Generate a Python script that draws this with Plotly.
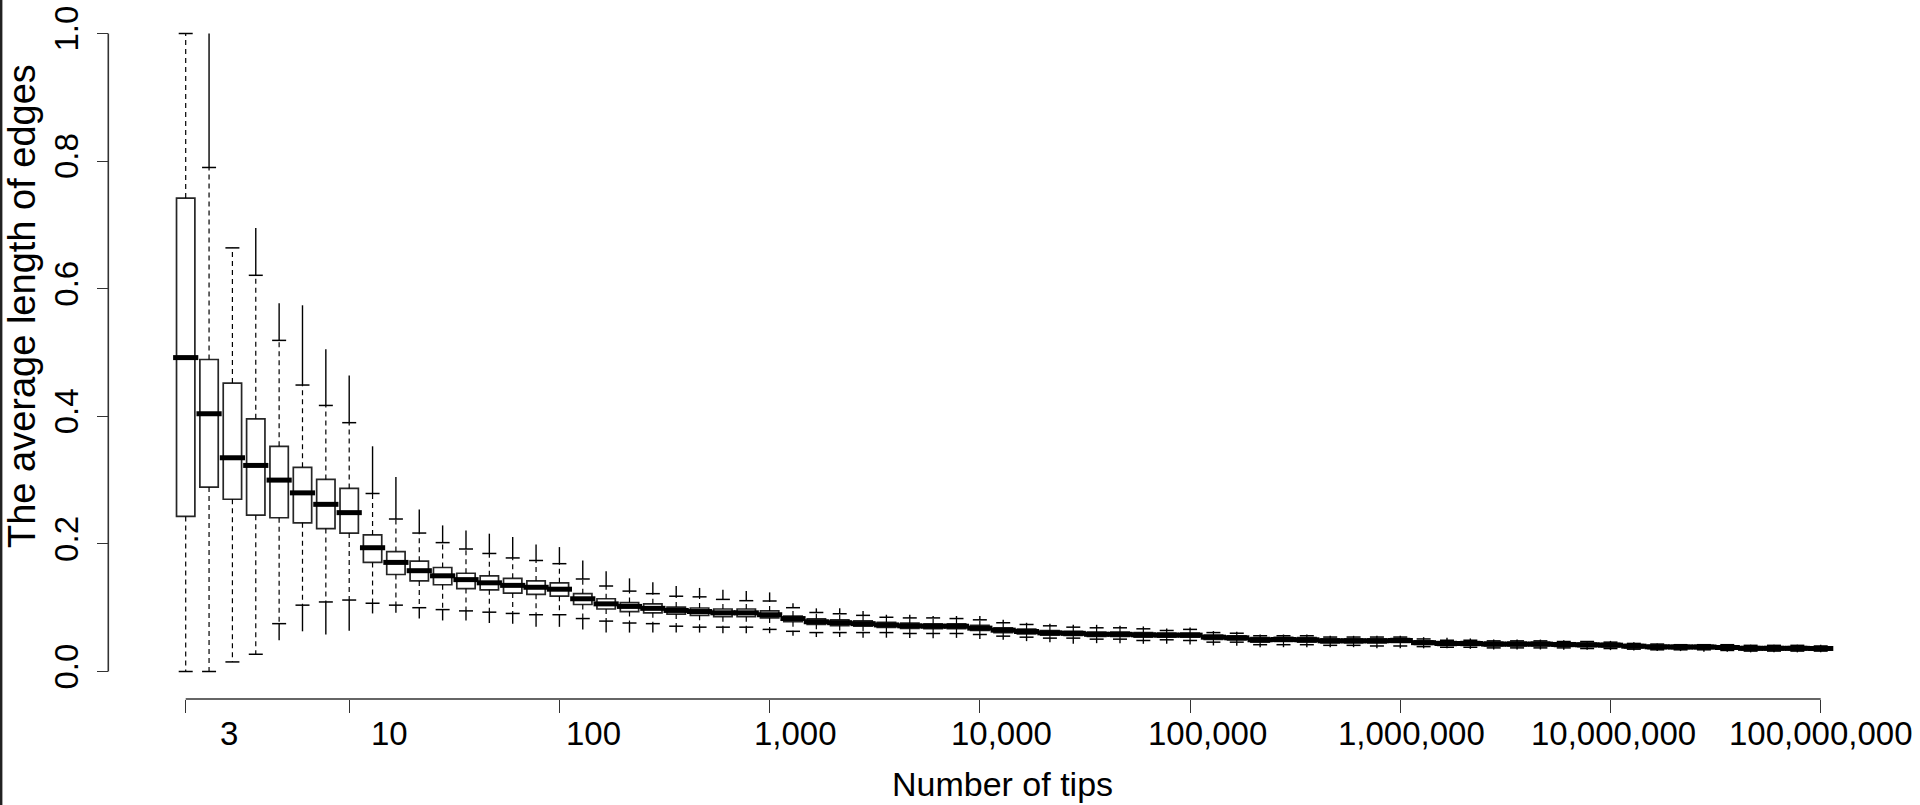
import plotly.graph_objects as go

# ---- data ----
tips = [3, 4, 5, 6, 7, 8, 9, 10,
        20, 30, 40, 50, 60, 70, 80, 90, 100,
        200, 300, 400, 500, 600, 700, 800, 900, 1000,
        2000, 3000, 4000, 5000, 6000, 7000, 8000, 9000, 10000,
        20000, 30000, 40000, 50000, 60000, 70000, 80000, 90000, 100000,
        200000, 300000, 400000, 500000, 600000, 700000, 800000, 900000, 1000000,
        2000000, 3000000, 4000000, 5000000, 6000000, 7000000, 8000000, 9000000, 10000000,
        20000000, 30000000, 40000000, 50000000, 60000000, 70000000, 80000000, 90000000, 100000000]

q1 = [0.243, 0.289, 0.270, 0.245, 0.241, 0.233, 0.224, 0.217,
      0.171, 0.152, 0.142, 0.136, 0.130, 0.128, 0.123, 0.121, 0.118,
      0.105, 0.098, 0.094, 0.092, 0.090, 0.088, 0.086, 0.086, 0.084,
      0.078, 0.074, 0.072, 0.071, 0.069, 0.0675, 0.067, 0.067, 0.0643,
      0.061, 0.059, 0.057, 0.0565, 0.055, 0.055, 0.054, 0.054, 0.054,
      0.0505, 0.0495, 0.046, 0.047, 0.046, 0.045, 0.045, 0.045, 0.0455,
      0.0425, 0.041, 0.041, 0.040, 0.040, 0.040, 0.0395, 0.039, 0.0385,
      0.037, 0.036, 0.036, 0.036, 0.035, 0.034, 0.034, 0.034, 0.0335]

med = [0.492, 0.404, 0.335, 0.323, 0.300, 0.280, 0.262, 0.249,
       0.194, 0.171, 0.158, 0.150, 0.144, 0.139, 0.135, 0.132, 0.129,
       0.114, 0.106, 0.102, 0.099, 0.0957, 0.094, 0.092, 0.092, 0.089,
       0.083, 0.078, 0.0765, 0.075, 0.073, 0.0716, 0.071, 0.071, 0.068,
       0.0648, 0.0627, 0.0606, 0.0598, 0.0583, 0.0583, 0.0575, 0.057, 0.057,
       0.0538, 0.0528, 0.0497, 0.0502, 0.0497, 0.0481, 0.0481, 0.0481, 0.0486,
       0.0452, 0.0439, 0.0439, 0.0429, 0.0429, 0.0429, 0.0424, 0.0418, 0.0413,
       0.0397, 0.0387, 0.0384, 0.0384, 0.0376, 0.0363, 0.0363, 0.0363, 0.0361]

q3 = [0.742, 0.489, 0.452, 0.396, 0.353, 0.320, 0.301, 0.287,
      0.214, 0.188, 0.173, 0.163, 0.154, 0.150, 0.146, 0.142, 0.139,
      0.122, 0.114, 0.108, 0.106, 0.101, 0.0995, 0.098, 0.098, 0.095,
      0.087, 0.0825, 0.081, 0.0795, 0.077, 0.0758, 0.0748, 0.0748, 0.0722,
      0.0685, 0.0665, 0.064, 0.063, 0.0617, 0.0617, 0.061, 0.060, 0.060,
      0.057, 0.056, 0.053, 0.0535, 0.053, 0.051, 0.051, 0.051, 0.0515,
      0.048, 0.047, 0.047, 0.046, 0.046, 0.046, 0.045, 0.0445, 0.044,
      0.042, 0.041, 0.041, 0.041, 0.040, 0.039, 0.039, 0.039, 0.0385]

whisker_lo = [0.000, 0.000, 0.015, 0.027, 0.075, 0.104, 0.109, 0.112,
              0.107, 0.104, 0.100, 0.097, 0.095, 0.093, 0.091, 0.089, 0.089,
              0.083, 0.079, 0.076, 0.075, 0.071, 0.0695, 0.0695, 0.0695, 0.066,
              0.063, 0.061, 0.061, 0.061, 0.061, 0.0596, 0.0596, 0.0596, 0.058,
              0.0554, 0.0538, 0.0523, 0.0523, 0.0507, 0.0507, 0.0486, 0.0497, 0.0486,
              0.046, 0.046, 0.042, 0.042, 0.042, 0.041, 0.041, 0.040, 0.040,
              0.039, 0.038, 0.038, 0.037, 0.037, 0.037, 0.037, 0.036, 0.036,
              0.035, 0.034, 0.034, 0.034, 0.033, 0.032, 0.032, 0.032, 0.032]

whisker_hi = [1.000, 0.790, 0.664, 0.621, 0.519, 0.449, 0.417, 0.390,
              0.279, 0.239, 0.217, 0.202, 0.192, 0.185, 0.178, 0.174, 0.169,
              0.145, 0.134, 0.126, 0.122, 0.118, 0.117, 0.113, 0.111, 0.1105,
              0.100, 0.0925, 0.0905, 0.088, 0.085, 0.084, 0.084, 0.083, 0.081,
              0.0764, 0.0737, 0.0716, 0.0695, 0.0685, 0.0685, 0.0669, 0.0643, 0.066,
              0.061, 0.060, 0.056, 0.056, 0.056, 0.054, 0.054, 0.054, 0.054,
              0.051, 0.049, 0.049, 0.048, 0.048, 0.048, 0.047, 0.047, 0.046,
              0.044, 0.043, 0.042, 0.042, 0.042, 0.041, 0.041, 0.041, 0.040]

outlier_lo = [None, None, None, None, 0.049, 0.063, 0.058, 0.064,
              0.091, 0.092, 0.083, 0.080, 0.080, 0.076, 0.075, 0.070, 0.070,
              0.066, 0.061, 0.061, 0.061, 0.061, 0.061, 0.060, 0.060, 0.060,
              0.056, 0.054, 0.054, 0.053, 0.053, 0.0527, 0.052, 0.0527, 0.051,
              0.0497, 0.0476, 0.046, 0.0434, 0.0444, 0.0444, 0.0434, 0.0434, 0.0423,
              0.0408, 0.0402, 0.0381, 0.0381, 0.0381, 0.0381, 0.0381, 0.0365, 0.0365,
              0.0363, 0.0363, 0.0355, 0.0345, 0.0345, 0.0345, 0.034, 0.034, 0.0335,
              0.033, 0.032, 0.032, 0.031, 0.031, 0.030, 0.030, 0.030, 0.030]

outlier_hi = [None, 1.000, None, 0.695, 0.577, 0.574, 0.505, 0.464,
              0.353, 0.305, 0.254, 0.229, 0.221, 0.216, 0.211, 0.199, 0.195,
              0.174, 0.157, 0.146, 0.140, 0.134, 0.131, 0.128, 0.126, 0.124,
              0.107, 0.099, 0.099, 0.095, 0.089, 0.089, 0.087, 0.087, 0.087,
              0.081, 0.0764, 0.0748, 0.0732, 0.0732, 0.0716, 0.0706, 0.0675, 0.069,
              0.0633, 0.0622, 0.058, 0.058, 0.058, 0.0559, 0.0559, 0.0559, 0.0559,
              0.0538, 0.0528, 0.0518, 0.050, 0.050, 0.050, 0.049, 0.048, 0.048,
              0.046, 0.044, 0.043, 0.043, 0.043, 0.042, 0.042, 0.042, 0.042]

tick_tips = [3, 10, 100, 1000, 10000, 100000, 1000000, 10000000, 100000000]
tick_labels = ["3", "10", "100", "1,000", "10,000", "100,000",
               "1,000,000", "10,000,000", "100,000,000"]
y_ticks = [0.0, 0.2, 0.4, 0.6, 0.8, 1.0]
y_tick_labels = ["0.0", "0.2", "0.4", "0.6", "0.8", "1.0"]

# horizontal nudge (px) of each x tick label relative to its tick, as in the reference
tick_label_shift = [43, 40, 34, 26, 22, 17, 11, 3, 0]

# ---- figure ----
W, H = 1920, 805
cats = [str(t) for t in tips]
FONT = "Liberation Sans, Arial, sans-serif"

fig = go.Figure()

# boxes (white, outlined)
fig.add_trace(go.Box(
    x=cats, q1=q1, median=med, q3=q3, lowerfence=q1, upperfence=q3,
    width=0.786, whiskerwidth=0, fillcolor="white",
    line=dict(color="#262626", width=1.7), boxpoints=False,
    hoverinfo="skip", showlegend=False))

# dashed whiskers
wx, wy = [], []
for c, a, b, lo, hi in zip(cats, q1, q3, whisker_lo, whisker_hi):
    wx += [c, c, None, c, c, None]
    wy += [b, hi, None, a, lo, None]
fig.add_trace(go.Scatter(x=wx, y=wy, mode="lines",
                         line=dict(color="black", width=1.2, dash="5px,4px"),
                         connectgaps=False, hoverinfo="skip", showlegend=False))

# outliers (dense, drawn as solid runs)
ox, oy = [], []
for c, lo, hi, olo, ohi in zip(cats, whisker_lo, whisker_hi, outlier_lo, outlier_hi):
    if ohi is not None:
        ox += [c, c, None]
        oy += [hi, ohi, None]
    if olo is not None:
        ox += [c, c, None]
        oy += [lo, olo, None]
fig.add_trace(go.Scatter(x=ox, y=oy, mode="lines",
                         line=dict(color="black", width=1.4),
                         connectgaps=False, hoverinfo="skip", showlegend=False))

# staples
fig.add_trace(go.Scatter(x=cats + cats, y=whisker_hi + whisker_lo, mode="markers",
                         marker=dict(symbol="line-ew", size=10, color="black",
                                     line=dict(color="black", width=1.5)),
                         hoverinfo="skip", showlegend=False))

# thick medians
fig.add_trace(go.Scatter(x=cats, y=med, mode="markers",
                         marker=dict(symbol="line-ew", size=18, color="black",
                                     line=dict(color="black", width=5)),
                         hoverinfo="skip", showlegend=False))

# pixel geometry
x_first_px, x_last_px = 185.7, 1820.7
step = (x_last_px - x_first_px) / (len(cats) - 1)
x_range = [-x_first_px / step, (len(cats) - 1) + (W - x_last_px) / step]
y0_px, y1_px = 671.5, 33.5
ppu = y0_px - y1_px
y_range = [-(H - y0_px) / ppu, 1 + y1_px / ppu]
x_axis_y = 1 - 699 / H
y_axis_x = 108.3 / W
first_tick_idx = cats.index(str(tick_tips[0]))
last_tick_idx = cats.index(str(tick_tips[-1]))

annotations = [
    dict(text="Number of tips", xref="paper", yref="paper",
         x=1003 / W, y=0.0, xanchor="center", yanchor="bottom",
         showarrow=False, font=dict(size=34, family=FONT, color="black")),
    dict(text="The average length of edges", xref="paper", yref="paper",
         x=22 / W, y=1 - 306 / H, xanchor="center", yanchor="middle",
         textangle=-90, showarrow=False, borderpad=0,
         font=dict(size=38, family=FONT, color="black")),
]
for t, lab, sh in zip(tick_tips, tick_labels, tick_label_shift):
    annotations.append(dict(
        text=lab, xref="x", yref="paper", x=cats.index(str(t)), y=1 - 733.5 / H,
        xanchor="center", yanchor="middle", xshift=sh, showarrow=False,
        borderpad=0, font=dict(size=33, family=FONT, color="black")))

fig.update_layout(
    width=W, height=H,
    margin=dict(l=0, r=0, t=0, b=0, pad=0),
    paper_bgcolor="white", plot_bgcolor="white",
    font=dict(family=FONT, color="black"),
    xaxis=dict(type="category", categoryorder="array", categoryarray=cats,
               range=x_range, domain=[0, 1], anchor="free", position=x_axis_y,
               showline=False, showgrid=False, zeroline=False,
               ticks="outside", ticklen=13, tickwidth=1.4, tickcolor="#333333",
               tickmode="array", tickvals=[str(t) for t in tick_tips], ticktext=tick_labels,
               showticklabels=False, automargin=False, fixedrange=True),
    yaxis=dict(range=y_range, domain=[0, 1], anchor="free", position=y_axis_x,
               showline=False, showgrid=False, zeroline=False,
               ticks="outside", ticklen=11, tickwidth=1.4, tickcolor="#333333",
               tickmode="array", tickvals=y_ticks, ticktext=y_tick_labels,
               tickangle=-90, tickfont=dict(size=33, family=FONT, color="black"),
               ticklabelstandoff=6, automargin=False, fixedrange=True),
    shapes=[
        dict(type="line", xref="x", yref="paper", x0=first_tick_idx, x1=last_tick_idx,
             y0=x_axis_y, y1=x_axis_y, line=dict(color="#333333", width=1.6)),
        dict(type="line", xref="paper", yref="y", x0=y_axis_x, x1=y_axis_x,
             y0=y_ticks[0], y1=y_ticks[-1], line=dict(color="#333333", width=1.6)),
        dict(type="line", xref="paper", yref="paper", x0=0.0006, x1=0.0006, y0=0, y1=1,
             line=dict(color="#222222", width=2.5)),
    ],
    annotations=annotations,
)

fig.write_html("out.html", config={"displayModeBar": False},
               post_script="document.body.style.margin='0';document.body.style.overflow='hidden';")
